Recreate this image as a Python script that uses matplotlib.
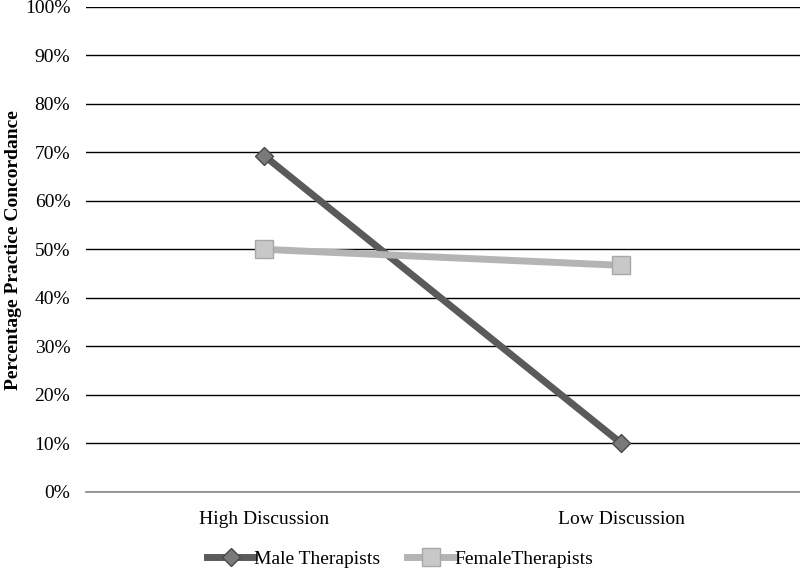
import matplotlib
matplotlib.use('Agg')
import matplotlib.pyplot as plt
from matplotlib.ticker import PercentFormatter

plt.rcParams['font.family'] = ['Liberation Serif', 'DejaVu Serif']

# data
categories = ['High Discussion', 'Low Discussion']
male = [69.3, 10.0]
female = [50.0, 46.7]

fig = plt.figure(figsize=(8, 5.68), dpi=100)
ax = fig.add_axes([0.107, 0.134, 0.893, 0.854])

x = range(len(categories))
ax.plot(x, male, color='#5a5a5a', linewidth=5, marker='D', markersize=9,
        markerfacecolor='#7a7a7a', markeredgecolor='#4a4a4a', label='Male Therapists', zorder=3)
ax.plot(x, female, color='#b4b4b4', linewidth=5, marker='s', markersize=13,
        markerfacecolor='#c8c8c8', markeredgecolor='#a8a8a8', label='FemaleTherapists', zorder=3)

ax.set_xlim(-0.5, 1.5)
ax.set_ylim(0, 100)
ax.set_yticks(range(0, 101, 10))
ax.yaxis.set_major_formatter(PercentFormatter(decimals=0))
ax.set_xticks(list(x))
ax.set_xticklabels(categories)
ax.grid(axis='y', color='black', linewidth=1)
ax.set_axisbelow(True)

for s in ['top', 'right', 'left']:
    ax.spines[s].set_visible(False)
ax.spines['bottom'].set_color('#888888')
ax.spines['bottom'].set_linewidth(1.2)
ax.tick_params(axis='y', length=0, labelsize=14, pad=11)
ax.tick_params(axis='x', length=0, labelsize=14, pad=14)

fig.text(0.017, 0.56, 'Percentage Practice Concordance', rotation=90, fontweight='bold',
         fontsize=14, ha='center', va='center')

fig.legend(loc='lower center', bbox_to_anchor=(0.5, -0.03), ncol=2, frameon=False,
           fontsize=14, handlelength=2.4, columnspacing=1.4, handletextpad=0.0)

plt.savefig('out.png', dpi=100)
plt.close()
